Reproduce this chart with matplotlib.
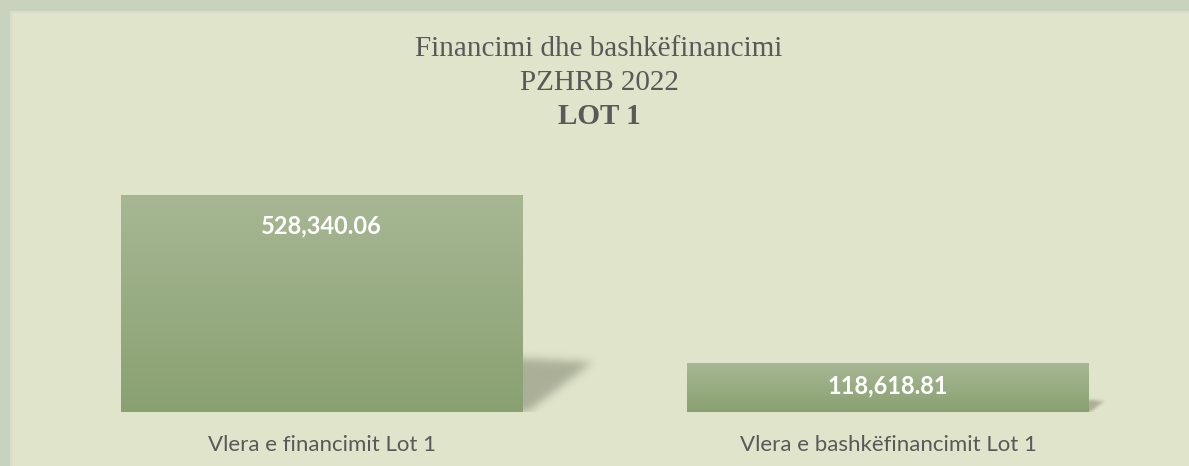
import numpy as np
import matplotlib.pyplot as plt
from matplotlib.patches import Rectangle
from matplotlib.path import Path
from matplotlib.colors import LinearSegmentedColormap

categories = ['Vlera e financimit Lot 1', 'Vlera e bashkëfinancimit Lot 1']
values = [528340.06, 118618.81]
title_lines = ['Financimi dhe bashkëfinancimi', 'PZHRB 2022', 'LOT 1']

W, H = 1189, 466
fig = plt.figure(figsize=(W / 100, H / 100), dpi=100)
fig.patch.set_facecolor('#C9D2BD')

# inner panel with thin light edge
fig.patches.append(Rectangle((10.5 / W, -0.1), 1.2, 1 - 11.5 / H + 0.1,
                             transform=fig.transFigure, facecolor='#DFE4CA',
                             edgecolor='#D8DCCE', linewidth=1.6, zorder=-5))

ymax = 600000
px_per_val = 216.7 / 528340.06
ax_h_px = ymax * px_per_val
ax_left, ax_right, ax_bottom = 38.6, 1171.4, H - 411.7
ax = fig.add_axes([ax_left / W, ax_bottom / H, (ax_right - ax_left) / W, ax_h_px / H])
ax.set_facecolor('none')
for s in ax.spines.values():
    s.set_visible(False)
ax.set_xticks([])
ax.set_yticks([])

xpos = np.arange(len(values))
width = 0.709
px_per_x = (ax_right - ax_left) / 2.0

cmap = LinearSegmentedColormap.from_list('g', ['#89A171', '#A7B794'])
grad = np.linspace(0, 1, 256).reshape(-1, 1)


def blur(a, sigma):
    r = int(3 * sigma) + 1
    k = np.exp(-0.5 * (np.arange(-r, r + 1) / sigma) ** 2)
    k /= k.sum()
    a = np.apply_along_axis(lambda m: np.convolve(m, k, mode='same'), 0, a)
    a = np.apply_along_axis(lambda m: np.convolve(m, k, mode='same'), 1, a)
    return a


bars = ax.bar(xpos, values, width, color='#98AD82', zorder=3)
for b, v in zip(bars, values):
    x0, x1 = b.get_x(), b.get_x() + b.get_width()
    im = ax.imshow(grad, extent=[x0, x1, 0, v], origin='lower', aspect='auto',
                   cmap=cmap, zorder=4)
    im.set_clip_path(b)

    # soft perspective shadow to the right of the bar (pixel grid, blurred)
    hpx = v * px_per_val
    sh_px = 0.25 * hpx
    dx_px = 0.32 * hpx
    sig = max(1.5, hpx / 50)
    m = int(4 * sig) + 2
    nx, ny = int(dx_px + 2 * m + 10), int(sh_px + m + 2)
    gx, gy = np.meshgrid(np.arange(nx) - 10 + 0.5, np.arange(ny) + 0.5)
    poly = Path([(-10, 0), (-10, sh_px), (dx_px, sh_px * 0.92), (dx_px * 0.06, 0)])
    mask = poly.contains_points(np.c_[gx.ravel(), gy.ravel()]).reshape(ny, nx).astype(float)
    mask = blur(np.pad(mask, ((m, 0), (0, 0))), sig)[m:]
    rgba = np.zeros((ny, nx, 4))
    rgba[..., :3] = np.array([112, 116, 95]) / 255
    rgba[..., 3] = 0.47 * mask
    ax.imshow(rgba, origin='lower', aspect='auto', zorder=2, interpolation='bilinear',
              extent=[x1 - 10 / px_per_x, x1 + (nx - 10) / px_per_x, 0, ny / px_per_val])

    # value label
    if hpx > 80:
        off, y = -38, v
    else:
        off, y = -6, v / 2
    ax.annotate(f'{v:,.2f}', xy=(b.get_x() + b.get_width() / 2, y),
                xytext=(0, off * 0.72), textcoords='offset points',
                ha='center', va='baseline', color='white', fontsize=17,
                fontweight='bold', family='Lato', zorder=6)

for x, c in zip(xpos, categories):
    ax.annotate(c, xy=(x, 0), xycoords=('data', 'axes fraction'),
                xytext=(0, -39 * 0.72), textcoords='offset points',
                ha='center', va='baseline', color='#595959', fontsize=16,
                family='Lato', annotation_clip=False)

ax.set_xlim(-0.5, 1.5)
ax.set_ylim(0, ymax)

for i, (line, yb) in enumerate(zip(title_lines, [56, 90, 124])):
    fig.text(599 / W, 1 - yb / H, line, ha='center', va='baseline',
             fontsize=21, family='Liberation Serif', color='#595959',
             fontweight='bold' if i == 2 else 'normal')

fig.savefig('out.png', dpi=100, facecolor=fig.get_facecolor())
